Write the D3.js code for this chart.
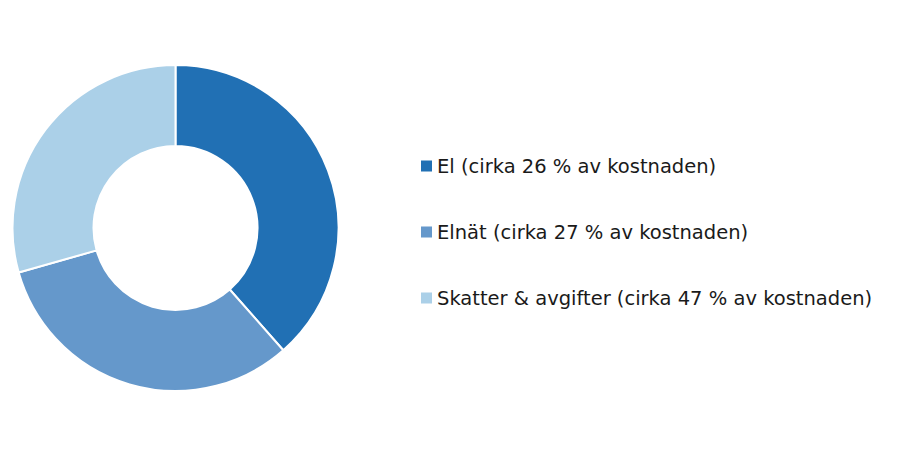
<!DOCTYPE html>
<html><head><meta charset="utf-8">
<script src="https://cdn.jsdelivr.net/npm/d3@7"></script>
<style>html,body{margin:0;padding:0;background:#fff;}svg{display:block;}</style>
</head><body>
<svg id="chart" width="900" height="450"></svg>
<script>
const categories = ["El (cirka 26 % av kostnaden)", "Elnät (cirka 27 % av kostnaden)", "Skatter & avgifter (cirka 47 % av kostnaden)"];
const values = [38.5, 32.1, 29.4];
const colors = ["#2170b4", "#6598cb", "#abd0e8"];

const svg = d3.select("#chart");
const cx = 175.5, cy = 228, rOuter = 163, rInner = 82;

const pie = d3.pie().sort(null).value(d => d)(values);
const arc = d3.arc().innerRadius(rInner).outerRadius(rOuter);

svg.append("g").attr("transform", `translate(${cx},${cy})`)
  .selectAll("path").data(pie).join("path")
  .attr("d", arc)
  .attr("fill", (d, i) => colors[i])
  .attr("stroke", "#fff").attr("stroke-width", 2).attr("stroke-linejoin", "miter");

const legendY = d3.scalePoint().domain(categories).range([172.5, 304.5]);
const lg = svg.append("g").selectAll("g").data(categories).join("g")
  .attr("transform", d => `translate(421,${legendY(d)})`);
lg.append("rect").attr("x", 0).attr("y", -12).attr("width", 11).attr("height", 11)
  .attr("fill", (d, i) => colors[i]);
lg.append("text").attr("x", 16).attr("y", 0)
  .attr("font-family", "'DejaVu Sans', sans-serif").attr("font-size", 19.5)
  .attr("fill", "#1a1a1a").text(d => d);
</script>
</body></html>
